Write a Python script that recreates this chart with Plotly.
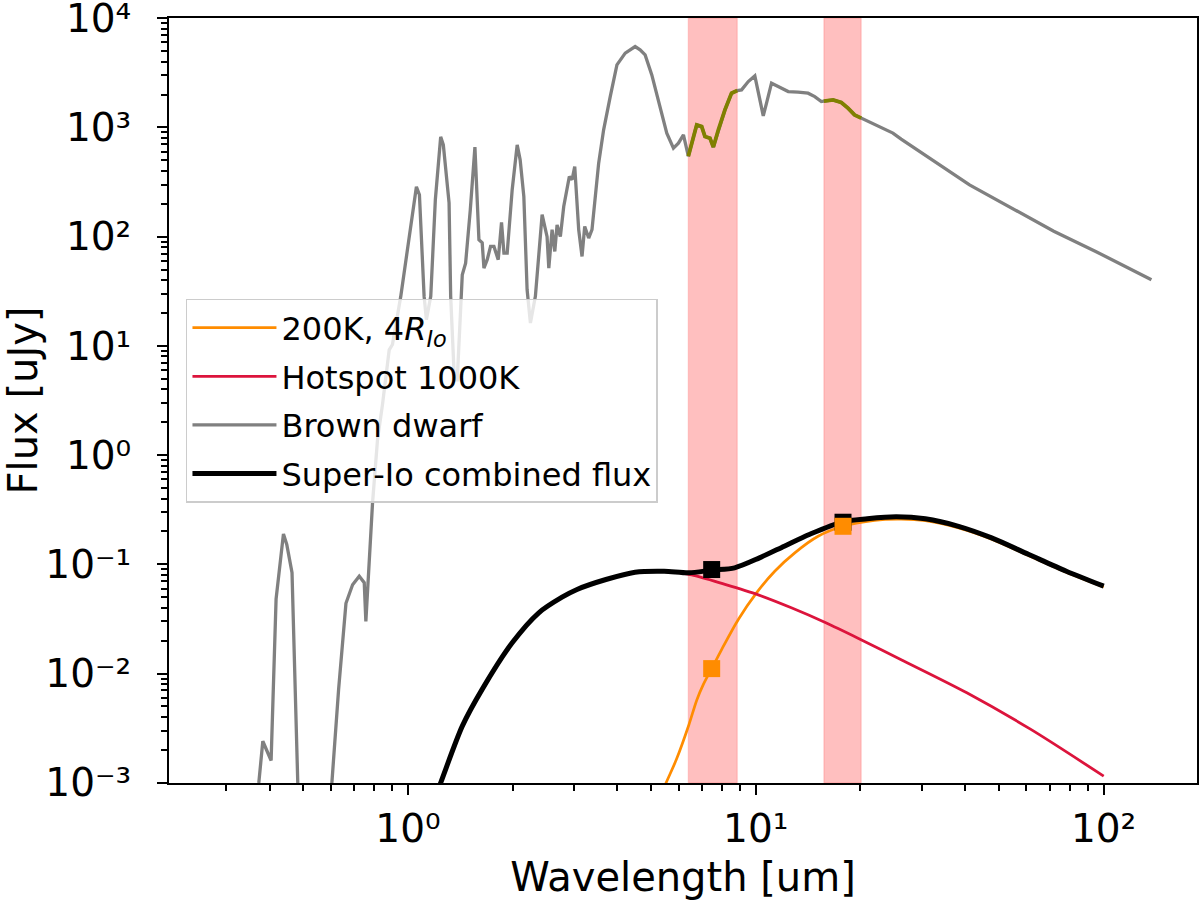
import plotly.graph_objects as go

# ---------------- data ----------------
bd_wave = [0.28, 0.33, 0.3726, 0.3826, 0.4042, 0.4177, 0.4386, 0.4483, 0.4642, 0.4822,
           0.498, 0.568, 0.6044, 0.632, 0.6634, 0.6932, 0.7244, 0.7488, 0.7568, 0.7911,
           0.8177, 0.8449, 0.8834, 0.9026, 0.9536, 1.0577, 1.079, 1.113, 1.130, 1.163,
           1.199, 1.242, 1.264, 1.313, 1.327, 1.360, 1.386, 1.417, 1.433, 1.465,
           1.511, 1.558, 1.600, 1.635, 1.654, 1.690, 1.728, 1.767, 1.818, 1.858,
           1.888, 1.929, 1.994, 2.061, 2.102, 2.154, 2.201, 2.250, 2.325, 2.431,
           2.512, 2.541, 2.597, 2.644, 2.684, 2.743, 2.805, 2.911, 2.964, 3.017,
           3.097, 3.166, 3.223, 3.309, 3.382, 3.535, 3.653, 3.816, 3.989, 4.214,
           4.500, 4.651, 4.808, 5.025, 5.309, 5.549, 5.799, 5.994, 6.196, 6.40,
           6.766, 6.992, 7.145, 7.386, 7.553, 7.807, 8.155, 8.52, 8.85, 9.105,
           9.517, 9.94, 10.27, 10.51, 10.74, 11.10, 11.60, 12.40, 13.24, 14.14,
           14.78, 15.44, 15.70, 16.69, 17.62, 18.42, 19.24, 20.10, 21.96, 24.80,
           26.19, 41.18, 71.93, 94.93, 137.3]
bd_flux = [2e-5, 1e-4, 1.0e-3, 2.4e-3, 1.6e-3, 0.048, 0.19, 0.152, 0.084, 1.0e-3,
           2e-4, 1e-4, 1.0e-3, 7.2e-3, 0.044, 0.065, 0.078, 0.068, 0.030, 0.365,
           1.39, 2.9, 9.2, 10.3, 28.4, 286, 242, 28.4, 17.4, 28.4,
           218, 820, 693, 204, 28.4, 4.9, 4.9, 28.4, 44.8, 57.3,
           176, 661, 93.7, 87.9, 51.6, 61.5, 81.4, 81.4, 61.5, 135,
           70.8, 70.8, 269, 693, 505, 233, 32.7, 16.2, 28.4, 159,
           100, 51.6, 116, 73.2, 128, 100, 189, 355, 332, 439,
           116, 65.9, 124, 97.1, 116, 471, 951, 1917, 3740, 4786,
           5500, 5129, 4616, 3029, 1553, 887, 647, 718, 855, 545,
           1056, 1019, 826, 798, 661, 951, 1449, 2060, 2177, 2208,
           2630, 2965, 1789, 1277, 1668, 2542, 2367, 2130, 2104, 2060,
           1917, 1726, 1740, 1789, 1690, 1503, 1303, 1217, 1056, 887,
           782, 298, 112, 73.2, 40.3]

cold_wave = [5.19, 5.524, 5.916, 6.425, 6.766, 7.075, 7.47, 7.978, 8.91, 10.05, 11.34,
             12.95, 15.11, 17.82, 21.96, 26.19, 30.73, 38.28, 47.68, 60.98, 78.17, 100.1]
cold_flux = [6.3e-4, 1.0e-3, 1.64e-3, 3.4e-3, 5.7e-3, 8.0e-3, 0.0111, 0.0166, 0.0313, 0.0548, 0.0865,
             0.1274, 0.1807, 0.223, 0.253, 0.259, 0.251, 0.2155, 0.170, 0.120, 0.0846, 0.062]

hot_wave = [1.14, 1.242, 1.433, 1.636, 1.994, 2.378, 2.774, 3.063, 3.709, 4.498, 5.452,
            6.544, 8.155, 10.17, 12.66, 15.79, 19.68, 26.19, 40.45, 61.8, 100.1]
hot_flux = [4.9e-4, 1.0e-3, 3.3e-3, 7.2e-3, 0.0191, 0.036, 0.050, 0.0589, 0.0726, 0.0847, 0.0865,
            0.0800, 0.0655, 0.0525, 0.0400, 0.0295, 0.0211, 0.0134, 6.67e-3, 3.08e-3, 1.15e-3]

comb_wave = [1.14, 1.242, 1.433, 1.636, 1.994, 2.378, 2.774, 3.063, 3.709, 4.498, 5.452,
             6.425, 7.47, 8.694, 10.25, 12.08, 14.25, 17.74, 20.92, 25.34, 30.73, 38.28,
             47.68, 60.98, 78.17, 100.1]
comb_flux = [4.9e-4, 1.0e-3, 3.3e-3, 7.2e-3, 0.0191, 0.036, 0.050, 0.0589, 0.0726, 0.0847, 0.0865,
             0.0836, 0.0885, 0.0929, 0.1146, 0.1466, 0.1875, 0.245, 0.261, 0.272, 0.261, 0.223,
             0.1746, 0.123, 0.0865, 0.0631]

band_lo = [6.40, 15.70]
band_hi = [8.85, 20.10]

phot_wave = [7.47, 17.82]
phot_comb = [0.0896, 0.243]
phot_cold = [0.0111, 0.223]

x_tickvals = [1, 10, 100]
x_ticktext = ["10\u2070", "10\u00b9", "10\u00b2"]
y_tickvals = [1e-3, 1e-2, 1e-1, 1e0, 1e1, 1e2, 1e3, 1e4]
y_ticktext = ["10\u207b\u00b3", "10\u207b\u00b2", "10\u207b\u00b9", "10\u2070",
              "10\u00b9", "10\u00b2", "10\u00b3", "10\u2074"]

# ---------------- figure ----------------
FONT = "DejaVu Sans"
fig = go.Figure()

fig.add_trace(go.Scatter(x=cold_wave, y=cold_flux, mode="lines",
                         line=dict(color="#FF8C00", width=2.7, shape="spline", smoothing=0.8),
                         name="200K, 4<i>R</i><sub><i>Io</i></sub>", legendgroup="a"))
fig.add_trace(go.Scatter(x=hot_wave, y=hot_flux, mode="lines",
                         line=dict(color="#DC143C", width=2.8, shape="spline", smoothing=0.8),
                         name="Hotspot 1000K", legendgroup="b"))
fig.add_trace(go.Scatter(x=bd_wave, y=bd_flux, mode="lines",
                         line=dict(color="#808080", width=3.3),
                         name="Brown dwarf", legendgroup="c"))
for lo, hi in zip(band_lo, band_hi):
    sx = [w for w in bd_wave if lo - 1e-6 <= w <= hi + 1e-6]
    sy = [f for w, f in zip(bd_wave, bd_flux) if lo - 1e-6 <= w <= hi + 1e-6]
    fig.add_trace(go.Scatter(x=sx, y=sy, mode="lines", line=dict(color="#808000", width=3.8),
                             showlegend=False, hoverinfo="skip"))
fig.add_trace(go.Scatter(x=comb_wave, y=comb_flux, mode="lines",
                         line=dict(color="black", width=5, shape="spline", smoothing=0.8),
                         name="Super-Io combined flux", legendgroup="d"))
fig.add_trace(go.Scatter(x=phot_wave, y=phot_comb, mode="markers",
                         marker=dict(symbol="square", size=17, color="black"), showlegend=False))
fig.add_trace(go.Scatter(x=phot_wave, y=phot_cold, mode="markers",
                         marker=dict(symbol="square", size=17, color="#FF8C00"), showlegend=False))

for lo, hi in zip(band_lo, band_hi):
    fig.add_vrect(x0=lo, x1=hi, fillcolor="rgba(255,0,0,0.25)",
                  line=dict(color="rgba(255,0,0,0.12)", width=1.5), layer="below")

x_minor = [k * 10 ** n for n in range(-1, 3) for k in range(2, 10) if 0.2056 <= k * 10 ** n <= 185.6]
y_minor = [k * 10.0 ** n for n in range(-3, 4) for k in range(2, 10)]

axis_common = dict(showline=True, linecolor="black", linewidth=2, mirror=True,
                   ticks="outside", ticklen=10, tickwidth=2, tickcolor="black",
                   showgrid=False, zeroline=False, automargin=False,
                   ticklabeloverflow="allow",
                   tickfont=dict(family=FONT, size=39, color="black"))

fig.update_xaxes(type="log", range=[-0.687, 2.2687], tickmode="array",
                 tickvals=x_tickvals, ticktext=x_ticktext,
                 minor=dict(ticks="outside", ticklen=6, tickwidth=1.5, tickcolor="black",
                            tickmode="array", tickvals=x_minor, showgrid=False),
                 title=dict(text="Wavelength [um]", font=dict(family=FONT, size=40, color="black"),
                            standoff=13),
                 **axis_common)
fig.update_yaxes(type="log", range=[-3.002, 4.002], tickmode="array",
                 tickvals=y_tickvals, ticktext=y_ticktext, ticklabelstandoff=18,
                 minor=dict(ticks="outside", ticklen=6, tickwidth=1.5, tickcolor="black",
                            tickmode="array", tickvals=y_minor, showgrid=False),
                 title=dict(text="Flux [uJy]", font=dict(family=FONT, size=40, color="black"),
                            standoff=15),
                 **axis_common)

fig.update_layout(
    width=1200, height=901,
    margin=dict(l=169, r=3, t=18, b=118),
    paper_bgcolor="white", plot_bgcolor="white",
    font=dict(family=FONT, color="black"),
    showlegend=True,
    legend=dict(x=0.0165, y=0.6328, xanchor="left", yanchor="top",
                bgcolor="rgba(255,255,255,0.8)", bordercolor="#cccccc", borderwidth=1.5,
                font=dict(family=FONT, size=32, color="black"),
                traceorder="grouped", tracegroupgap=4, itemwidth=84),
)

fig.write_html("out.html", config={"displayModeBar": False},
               post_script="document.body.style.margin='0px'; document.body.style.overflow='hidden';")
